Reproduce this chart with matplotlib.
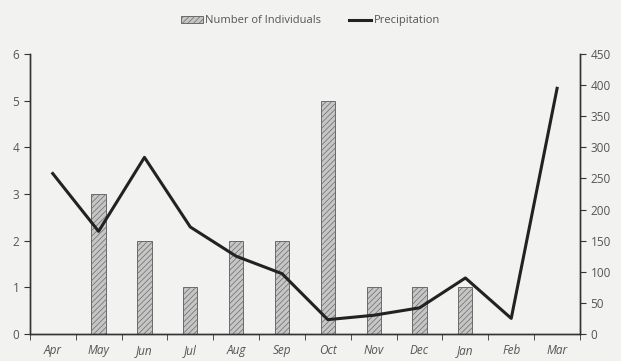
"""Monthly individuals vs precipitation, bars plus line on twin axes."""

import matplotlib
matplotlib.use("Agg")
import matplotlib.pyplot as plt
import numpy as np

months = ["Apr", "May", "Jun", "Jul", "Aug", "Sep", "Oct", "Nov", "Dec", "Jan", "Feb", "Mar"]
individuals = [0, 3, 2, 1, 2, 2, 5, 1, 1, 1, 0, 0]
precipitation = [258, 165, 284, 172, 125, 97, 23, 30, 42, 90, 25, 395]

bg = "#f2f2f0"
text_col = "#555555"
plt.rcParams["font.family"] = ["Open Sans", "DejaVu Sans"]
plt.rcParams["hatch.color"] = "#a8a8a8"
plt.rcParams["hatch.linewidth"] = 0.5

fig = plt.figure(figsize=(6.21, 3.61), dpi=100, facecolor=bg)
ax = fig.add_axes([0.048, 0.075, 0.886, 0.775], facecolor=bg)
x = np.arange(len(months))

ax.bar(x, individuals, width=0.31, color="#c6c6c6", edgecolor="#6a6a6a",
       hatch="//////", linewidth=0.7, label="Number of Individuals", zorder=2)
ax.set_ylim(0, 6)
ax.set_xlim(-0.5, len(months) - 0.5)
ax.set_yticks(range(0, 7))
ax.set_xticks(x)
ax.set_xticklabels(months, style="italic", fontsize=8.5, color=text_col)
ax.set_xticks(np.arange(-0.5, len(months)), minor=True)
ax.tick_params(axis="x", which="major", length=0, pad=7)
ax.tick_params(axis="x", which="minor", length=4, color="#333333", direction="out")
ax.tick_params(axis="y", labelsize=8.5, labelcolor=text_col, length=4, color="#333333")

ax2 = ax.twinx()
ax2.plot(x, precipitation, color="#222222", linewidth=2.2, label="Precipitation", zorder=3)
ax2.set_ylim(0, 450)
ax2.set_yticks(range(0, 451, 50))
ax2.tick_params(axis="y", labelsize=8.5, labelcolor=text_col, length=4, color="#333333")

for a in (ax, ax2):
    a.spines["top"].set_visible(False)
    for s in ("left", "right", "bottom"):
        a.spines[s].set_color("#333333")
        a.spines[s].set_linewidth(1.0)

h1, l1 = ax.get_legend_handles_labels()
h2, l2 = ax2.get_legend_handles_labels()
fig.legend(h1 + h2, l1 + l2, loc="upper center", bbox_to_anchor=(0.5, 0.985), ncol=2,
           frameon=False, fontsize=8, labelcolor=text_col, handlelength=2.0,
           handletextpad=0.2, columnspacing=2.5)

fig.savefig("out.png", dpi=100, facecolor=bg)
